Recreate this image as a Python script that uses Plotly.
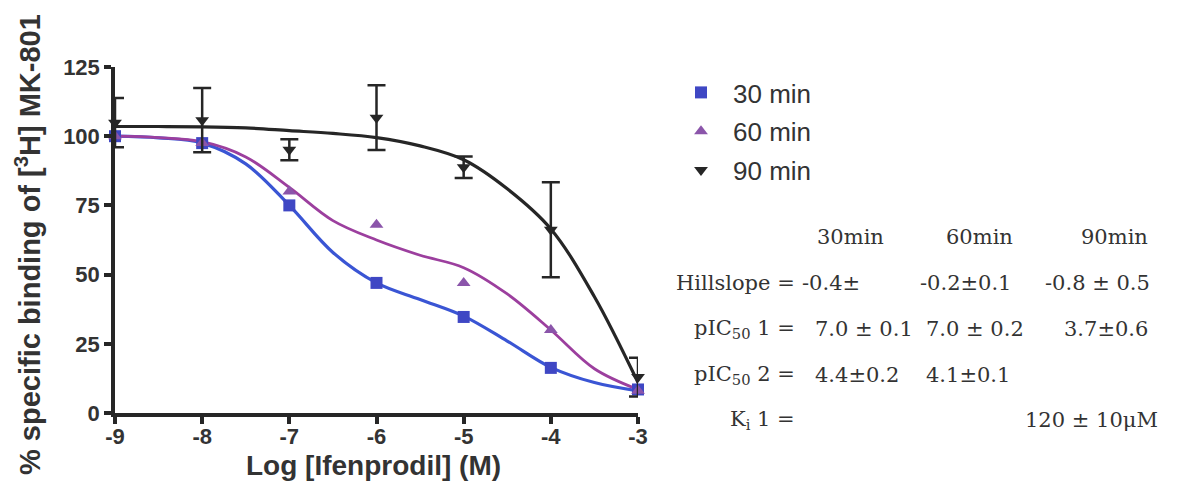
import plotly.graph_objects as go

# ---------------- data ----------------
log_conc = [-9, -8, -7, -6, -5, -4, -3]
binding_30 = [100, 97.5, 75, 47, 34.7, 16.3, 8.5]
binding_60 = [100, 97.5, 80, 68, 47, 30, 8]
binding_90 = [104.9, 105.8, 95.1, 106.7, 88.8, 66.2, 13]
err_90 = [8.9, 11.6, 3.8, 11.7, 3.9, 17.2, 7]

# fitted curves
curve_x = [-9, -8.5, -8, -7.5, -7, -6.5, -6, -5.5, -5, -4.5, -4, -3.5, -3]
curve_30 = [100, 99.4, 97.5, 90, 75, 58, 47, 41, 35, 26, 16.5, 11, 8]
curve_60 = [100, 99.5, 98, 92.5, 81.5, 69.5, 62.5, 57, 52.5, 43, 30, 16, 8.5]
curve_90 = [103.5, 103.5, 103.4, 103, 102, 101, 99.5, 96.5, 91.5, 81, 66.5, 42, 11]

series_names = ["30 min", "60 min", "90 min"]
x_ticks = [-9, -8, -7, -6, -5, -4, -3]
y_ticks = [0, 25, 50, 75, 100, 125]

table_headers = ["30min", "60min", "90min"]
table_labels = ["Hillslope =", "pIC<sub>50</sub> 1 =", "pIC<sub>50</sub> 2 =", "K<sub>i</sub> 1 ="]
table_col_30 = ["-0.4±", "7.0 ± 0.1", "4.4±0.2", ""]
table_col_60 = ["-0.2±0.1", "7.0 ± 0.2", "4.1±0.1", ""]
table_col_90 = ["-0.8 ± 0.5", "3.7±0.6", "", "120 ± 10μM"]

# ---------------- styling ----------------
OFF = 8  # page body margin
W, H = 1177 - OFF, 498 - OFF
L, R, T, B = 115, 638, 67, 413  # target plot-area edges on the page
BLUE_LINE, BLUE_MK = "#3a55d4", "#3f47c4"
PURP_LINE, PURP_MK = "#9c3f9e", "#8b55aa"
BLACK = "#262626"
TXT = "#333333"


def px(x):
    return (x - L) / (R - L)


def py(y):
    return (B - y) / (B - T)


fig = go.Figure()

# fitted curves
fig.add_trace(go.Scatter(x=curve_x, y=curve_30, mode="lines", line=dict(color=BLUE_LINE, width=3.2, shape="spline"),
                         showlegend=False, hoverinfo="skip", cliponaxis=False))
fig.add_trace(go.Scatter(x=curve_x, y=curve_60, mode="lines", line=dict(color=PURP_LINE, width=2.8, shape="spline"),
                         showlegend=False, hoverinfo="skip", cliponaxis=False))
fig.add_trace(go.Scatter(x=curve_x, y=curve_90, mode="lines", line=dict(color=BLACK, width=3.2, shape="spline"),
                         showlegend=False, hoverinfo="skip", cliponaxis=False))

# data points
fig.add_trace(go.Scatter(x=log_conc, y=binding_30, mode="markers", name=series_names[0], legendgroup="a",
                         marker=dict(symbol="square", size=12, color=BLUE_MK), cliponaxis=False))
fig.add_trace(go.Scatter(x=log_conc, y=binding_60, mode="markers", name=series_names[1], legendgroup="b",
                         marker=dict(symbol="triangle-up", size=12, color=PURP_MK), cliponaxis=False))
fig.add_trace(go.Scatter(x=log_conc, y=binding_90, mode="markers", name=series_names[2], legendgroup="c",
                         marker=dict(symbol="triangle-down", size=12, color=BLACK),
                         error_y=dict(type="data", array=err_90, color=BLACK, thickness=2.5, width=9),
                         cliponaxis=False))

axis_common = dict(showline=True, linecolor=BLACK, linewidth=3.5, ticks="outside", ticklen=7,
                   tickwidth=3.5, tickcolor=BLACK, showgrid=False, zeroline=False,
                   tickfont=dict(family="Liberation Sans, Arial", size=22, color=TXT, weight="bold"))

fig.update_xaxes(range=[-9, -3], tickvals=x_ticks, ticktext=[str(v) for v in x_ticks],
                 ticklabelstandoff=-6, **axis_common)
fig.update_yaxes(range=[0, 125], tickvals=y_ticks, ticktext=[str(v) for v in y_ticks], **axis_common)

annotations = []
# axis titles
annotations.append(dict(text="Log [Ifenprodil] (M)", x=px(373), y=py(465), xref="paper", yref="paper",
                        showarrow=False, xanchor="center", yanchor="middle",
                        font=dict(family="Liberation Sans, Arial", size=28, color=TXT, weight="bold")))
annotations.append(dict(text="% specific binding of [<sup>3</sup>H] MK-801", x=px(28), y=py(245),
                        xref="paper", yref="paper", showarrow=False, textangle=-90,
                        xanchor="center", yanchor="middle",
                        font=dict(family="Liberation Sans, Arial", size=29, color=TXT, weight="bold")))

# table
tfont = dict(family="DejaVu Serif", size=21, color=TXT)
header_x = [850, 979, 1114]
for hx, ht in zip(header_x, table_headers):
    annotations.append(dict(text=ht, x=px(hx), y=py(237), xref="paper", yref="paper", showarrow=False,
                            xanchor="center", yanchor="middle", font=tfont))
row_y = [283, 329, 375, 420]
col_left_30 = [800, 813, 813, 813]
col_left_60 = [918, 924, 924, 924]
col_right_90 = [1152, 1150, 1150, 1160]
for i, ry in enumerate(row_y):
    annotations.append(dict(text=table_labels[i], x=px(797), y=py(ry), xref="paper", yref="paper",
                            showarrow=False, xanchor="right", yanchor="middle", font=tfont))
    if table_col_30[i]:
        annotations.append(dict(text=table_col_30[i], x=px(col_left_30[i]), y=py(ry), xref="paper", yref="paper",
                                showarrow=False, xanchor="left", yanchor="middle", font=tfont))
    if table_col_60[i]:
        annotations.append(dict(text=table_col_60[i], x=px(col_left_60[i]), y=py(ry), xref="paper", yref="paper",
                                showarrow=False, xanchor="left", yanchor="middle", font=tfont))
    if table_col_90[i]:
        annotations.append(dict(text=table_col_90[i], x=px(col_right_90[i]), y=py(ry), xref="paper", yref="paper",
                                showarrow=False, xanchor="right", yanchor="middle", font=tfont))

fig.update_layout(
    width=W, height=H,
    margin=dict(l=L - OFF, r=W - (R - OFF), t=T - OFF, b=H - (B - OFF), pad=0),
    paper_bgcolor="white", plot_bgcolor="white",
    annotations=annotations,
    legend=dict(x=px(669), y=py(69), xanchor="left", yanchor="top", tracegroupgap=2,
                font=dict(family="Liberation Sans, Arial", size=26, color=TXT),
                bgcolor="rgba(0,0,0,0)", itemwidth=54),
)

fig.write_html("out.html")
